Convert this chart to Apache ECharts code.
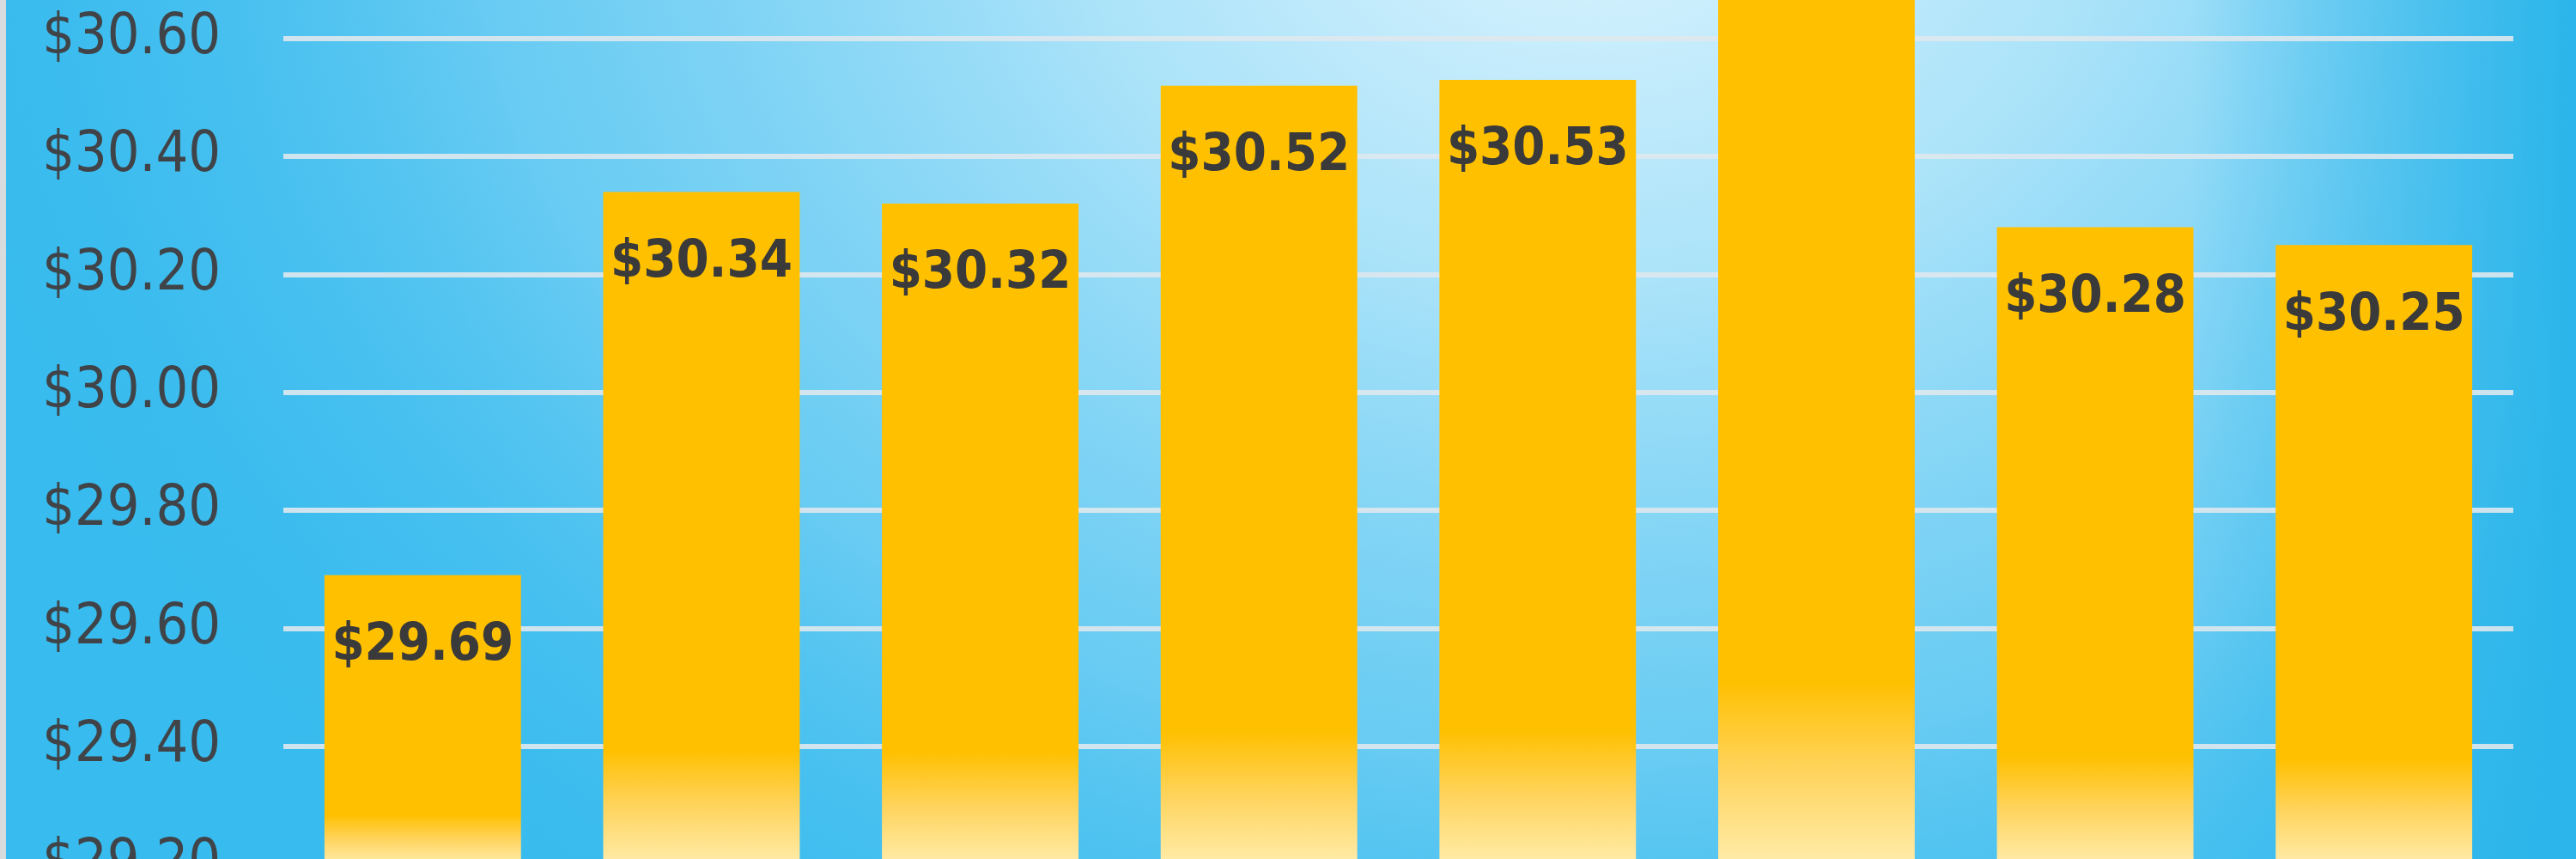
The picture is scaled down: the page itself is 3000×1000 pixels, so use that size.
<!DOCTYPE html>
<html>
<head>
<meta charset="utf-8">
<style>
  html, body { margin: 0; padding: 0; background: #38BBEE; overflow: hidden; width: 3000px; height: 1000px; position: relative; }
  #chart { position: absolute; left: 0; top: -467px; width: 3000px; height: 1550px; }
</style>
<script src="https://cdn.jsdelivr.net/npm/echarts@6/dist/echarts.min.js"></script>
</head>
<body>
<div id="chart"></div>
<script>
// ---- data ----
const categories = ['1', '2', '3', '4', '5', '6', '7', '8'];
const prices = [29.69, 30.34, 30.32, 30.52, 30.53, 31.02, 30.28, 30.25];
const yMin = 29.2;
const yMax = 31.2;
const yStep = 0.2;

const FONT = "'DejaVu Sans Condensed', 'Liberation Sans Narrow', 'DejaVu Sans', sans-serif";
const OFF = 467; // page y = chart y - OFF

const chart = echarts.init(document.getElementById('chart'), null, { renderer: 'canvas' });

const barFill = new echarts.graphic.LinearGradient(0, 0, 0, 1, [
  { offset: 0, color: '#FFC000' },
  { offset: 0.83, color: '#FFC000' },
  { offset: 0.91, color: '#FFD35A' },
  { offset: 1, color: '#FFECAA' }
]);

chart.setOption({
  backgroundColor: '#38BBEE',
  animation: false,
  graphic: [
    {
      type: 'circle',
      z: -10,
      silent: true,
      x: 1850, y: -150 + OFF,
      scaleX: 2.0, scaleY: 1.6,
      shape: { cx: 0, cy: 0, r: 1000 },
      style: {
        fill: new echarts.graphic.RadialGradient(0.5, 0.5, 0.5, [
          { offset: 0, color: 'rgba(232,248,255,0.95)' },
          { offset: 0.3, color: 'rgba(200,237,252,0.8)' },
          { offset: 0.65, color: 'rgba(150,219,247,0.5)' },
          { offset: 1, color: 'rgba(56,187,238,0)' }
        ])
      }
    },
    {
      type: 'rect',
      z: -9,
      silent: true,
      shape: { x: 2550, y: 0, width: 450, height: 1550 },
      style: {
        fill: new echarts.graphic.LinearGradient(0, 0, 1, 0, [
          { offset: 0, color: 'rgba(43,181,234,0)' },
          { offset: 1, color: 'rgba(43,181,234,1)' }
        ])
      }
    },
    {
      type: 'rect',
      z: 10,
      silent: true,
      shape: { x: 0, y: 0, width: 7, height: 1550 },
      style: { fill: '#D8DCDE' }
    }
  ],
  grid: { left: 330, right: 73, top: 100, bottom: 77, containLabel: false, outerBoundsMode: 'none' },
  xAxis: {
    type: 'category',
    data: categories,
    axisLine: { show: false },
    axisTick: { show: false },
    axisLabel: { show: false }
  },
  yAxis: {
    type: 'value',
    min: yMin,
    max: yMax,
    interval: yStep,
    axisLine: { show: false },
    axisTick: { show: false },
    axisLabel: {
      margin: 73,
      fontSize: 66,
      fontFamily: FONT,
      color: '#404448',
      formatter: v => '$' + v.toFixed(2)
    },
    splitLine: { lineStyle: { color: 'rgba(222,232,237,0.9)', width: 6 } }
  },
  series: [{
    type: 'bar',
    data: prices,
    barCategoryGap: '29.5%',
    itemStyle: { color: barFill },
    label: {
      show: true,
      position: 'insideTop',
      distance: 52,
      fontSize: 61,
      fontWeight: 'bold',
      fontFamily: FONT,
      color: '#3A3A3A',
      formatter: p => '$' + p.value.toFixed(2)
    }
  }]
});
</script>
</body>
</html>
